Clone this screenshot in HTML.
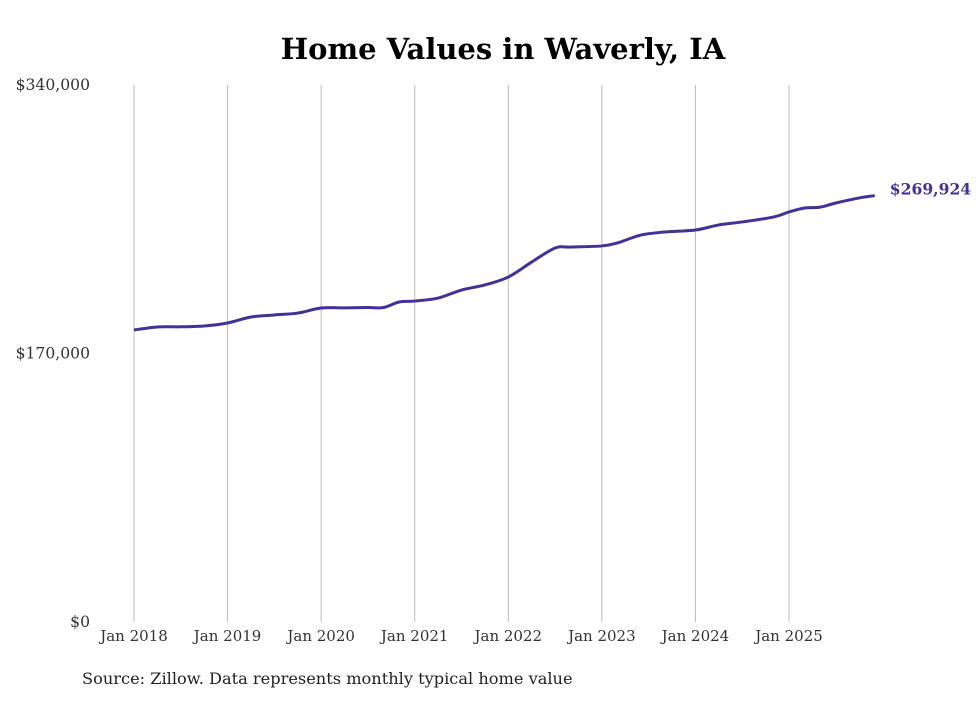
<!DOCTYPE html>
<html><head><meta charset="utf-8"><style>
body{margin:0;background:#fff;}
svg text{font-family:"DejaVu Serif",serif;}
</style></head><body>
<svg width="980" height="699" viewBox="0 0 980 699">
<text x="503" y="59" text-anchor="middle" font-size="29" font-weight="bold" fill="#000">Home Values in Waverly, IA</text>
<g id="grid"></g>
<g id="yticks"></g>
<g id="xticks"></g>
<path id="line" fill="none" stroke="#3e3396" stroke-width="3"/>
<text id="endlabel" font-size="15.6" font-weight="bold" fill="#3e3396"></text>
<text x="82" y="684" font-size="16.2" fill="#222">Source: Zillow. Data represents monthly typical home value</text>
</svg>
<script>
const months = [0,3,6,9,12,15,18,21,24,27,30,32,34,36,39,42,45,48,51,54,56,60,62,65,68,72,75,78,82,84,86,88,90,93,95];
const values = [184900,186800,186900,187400,189300,193100,194400,195600,198800,198900,199100,199100,202600,203200,205100,210200,213400,218400,227900,236800,237400,238100,240000,245000,246900,248200,251400,253300,256400,259600,262100,262700,265300,268500,269924];
const yTicks = [0,170000,340000];
const yLabels = ["$0","$170,000","$340,000"];
const xTickMonths = [0,12,24,36,48,60,72,84];
const xLabels = ["Jan 2018","Jan 2019","Jan 2020","Jan 2021","Jan 2022","Jan 2023","Jan 2024","Jan 2025"];
const endLabel = "$269,924";

const NS="http://www.w3.org/2000/svg";
const x=m=>134+m*(655/84);
const y=v=>622-v/340000*537;
const grid=document.getElementById('grid'),yt=document.getElementById('yticks'),xt=document.getElementById('xticks');
xTickMonths.forEach((m,i)=>{
  const l=document.createElementNS(NS,'line');
  l.setAttribute('x1',x(m));l.setAttribute('x2',x(m));l.setAttribute('y1',85);l.setAttribute('y2',622);
  l.setAttribute('stroke','#bbb');l.setAttribute('stroke-width','1');
  
  
  grid.appendChild(l);
  const t=document.createElementNS(NS,'text');
  t.setAttribute('x',x(m));t.setAttribute('y',641);t.setAttribute('text-anchor','middle');
  t.setAttribute('font-size','15');t.setAttribute('fill','#333');t.textContent=xLabels[i];
  
  
  xt.appendChild(t);
});
yTicks.forEach((v,i)=>{
  const t=document.createElementNS(NS,'text');
  t.setAttribute('x',90);t.setAttribute('y',y(v)+5);t.setAttribute('text-anchor','end');
  t.setAttribute('font-size','15.6');t.setAttribute('fill','#333');t.textContent=yLabels[i];
  
  
  yt.appendChild(t);
});
const pts=months.map((m,i)=>[x(m),y(values[i])]);
let d='M'+pts[0][0]+','+pts[0][1];
for(let i=0;i<pts.length-1;i++){
  const p0=pts[i-1]||pts[i],p1=pts[i],p2=pts[i+1],p3=pts[i+2]||p2;
  const c1=[p1[0]+(p2[0]-p0[0])/6,p1[1]+(p2[1]-p0[1])/6];
  const c2=[p2[0]-(p3[0]-p1[0])/6,p2[1]-(p3[1]-p1[1])/6];
  d+=` C${c1[0]},${c1[1]} ${c2[0]},${c2[1]} ${p2[0]},${p2[1]}`;
}
document.getElementById('line').setAttribute('d',d);
const last=pts[pts.length-1];
const el=document.getElementById('endlabel');
el.setAttribute('x',last[0]+15);el.setAttribute('y',last[1]-1);el.textContent=endLabel;
</script>
</body></html>
